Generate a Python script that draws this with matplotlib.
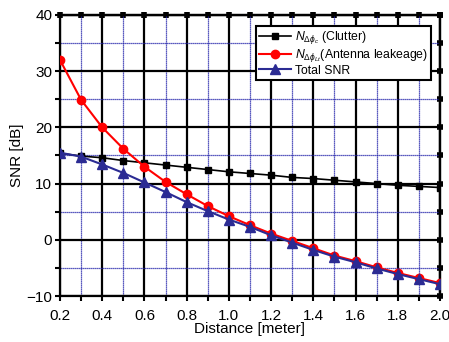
import matplotlib
matplotlib.use("Agg")
import matplotlib.pyplot as plt
import numpy as np

plt.rcParams['font.family'] = ['Liberation Sans', 'DejaVu Sans']
plt.rcParams['mathtext.fontset'] = 'custom'
plt.rcParams['mathtext.it'] = 'Liberation Sans:italic'
plt.rcParams['mathtext.rm'] = 'Liberation Sans'

distance = [0.2, 0.3, 0.4, 0.5, 0.6, 0.7, 0.8, 0.9, 1.0, 1.1,
            1.2, 1.3, 1.4, 1.5, 1.6, 1.7, 1.8, 1.9, 2.0]
clutter = [15.4, 14.9, 14.6, 14.1, 13.7, 13.3, 12.9, 12.5, 12.1, 11.8,
           11.5, 11.1, 10.9, 10.6, 10.3, 10.0, 9.7, 9.5, 9.3]
leakage = [32.0, 24.9, 20.0, 16.2, 13.0, 10.3, 8.1, 6.0, 4.2, 2.6,
           1.1, -0.2, -1.5, -2.8, -3.8, -4.9, -5.9, -6.8, -7.7]
total = [15.5, 14.8, 13.4, 11.9, 10.2, 8.5, 6.7, 5.1, 3.6, 2.3,
         0.8, -0.5, -1.8, -3.0, -4.0, -5.1, -6.1, -7.0, -7.9]

labels = [r'$N_{\Delta\phi_c}$ (Clutter)',
          r'$N_{\Delta\phi_{Lt}}$(Antenna leakeage)',
          'Total SNR']

xticks = [0.2, 0.4, 0.6, 0.8, 1.0, 1.2, 1.4, 1.6, 1.8, 2.0]
yticks = [-10, 0, 10, 20, 30, 40]

fig = plt.figure(figsize=(4.49, 3.42), dpi=100)
ax = fig.add_axes([60/449, 1-296/342, 380/449, 281/342])

blue = '#2b2b93'
ax.plot(distance, clutter, color='black', marker='s', markersize=5, lw=1.2, label=labels[0], zorder=3)
ax.plot(distance, leakage, color='red', marker='o', markersize=6, lw=1.5, label=labels[1], zorder=4)
ax.plot(distance, total, color=blue, marker='^', markersize=7.5, lw=1.5, label=labels[2], zorder=5)

ax.set_xlim(0.2, 2.0)
ax.set_ylim(-10, 40)
ax.set_xticks(xticks)
ax.set_xticklabels([f'{t:.1f}' for t in xticks])
ax.set_yticks(yticks)
ax.set_xticks(np.arange(0.3, 2.0, 0.2), minor=True)
ax.set_yticks(np.arange(-5, 40, 10), minor=True)

ax.grid(which='major', color='black', lw=1.6, zorder=1)
ax.grid(which='minor', color='#2222aa', lw=0.9, ls=(0, (1, 0.6)), zorder=1)
ax.set_axisbelow(True)

ax.tick_params(which='both', direction='out', length=3.5, width=1.5, labelsize=11)
ax.tick_params(axis='x', which='both', pad=5.5)
ax.tick_params(axis='y', which='both', pad=2)
for s in ax.spines.values():
    s.set_linewidth(1.6)

# square tick marks on top and right
allx = np.arange(0.2, 2.01, 0.1)
ally = np.arange(-10, 40.1, 5)
secx = ax.secondary_xaxis('top')
secx.set_xticks(allx)
secx.tick_params(direction='inout', length=4, width=4, labeltop=False)
secx.spines['top'].set_linewidth(1.6)
secy = ax.secondary_yaxis('right')
secy.set_yticks(ally)
secy.tick_params(direction='inout', length=4, width=4, labelright=False)
secy.spines['right'].set_linewidth(1.6)

ax.set_xlabel('Distance [meter]', fontsize=11, labelpad=0)
ax.set_ylabel('SNR [dB]', fontsize=11, labelpad=2)

leg = ax.legend(loc='upper right', bbox_to_anchor=(0.976, 0.96), fontsize=8.8,
                frameon=True, fancybox=False, framealpha=1, edgecolor='black',
                handlelength=2.6, handletextpad=0.3, borderpad=0.25, labelspacing=0.05,
                borderaxespad=0)
leg.get_frame().set_linewidth(1.5)
leg.set_zorder(10)

fig.savefig('out.png', dpi=100)
